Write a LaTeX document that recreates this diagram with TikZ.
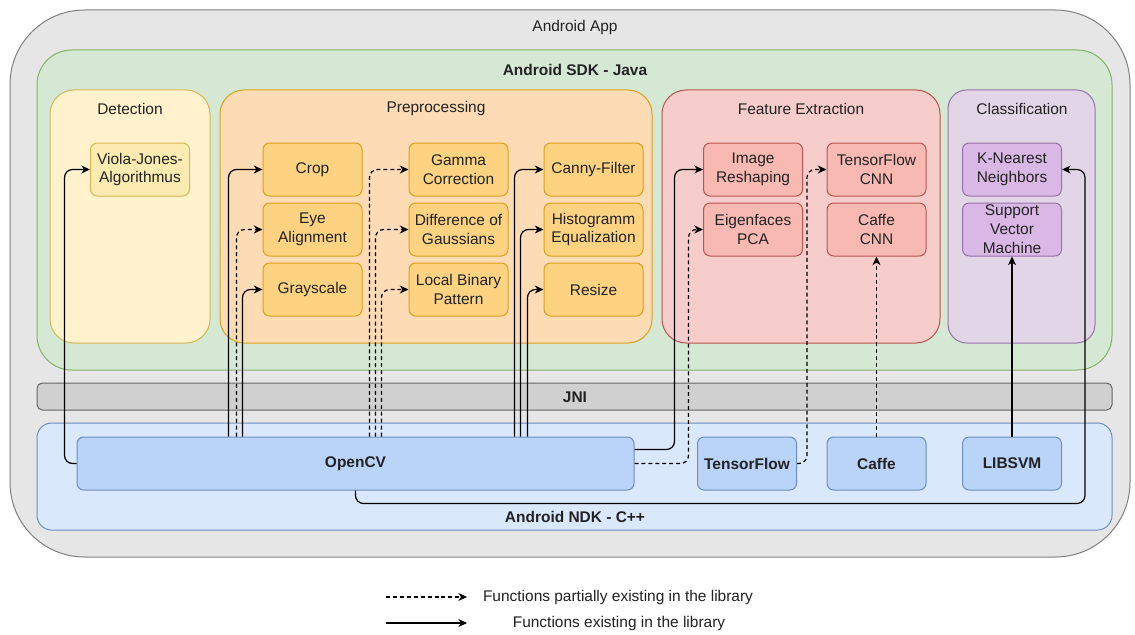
\documentclass[tikz,border=0pt]{standalone}
\usepackage{fontspec}
\setmainfont{Liberation Sans}
\usetikzlibrary{arrows.meta,calc}
\definecolor{appfill}{HTML}{E6E6E6}
\definecolor{appdraw}{HTML}{808080}
\definecolor{sdkfill}{HTML}{D5E8D4}
\definecolor{sdkdraw}{HTML}{82B366}
\definecolor{detfill}{HTML}{FFF2CC}
\definecolor{detdraw}{HTML}{D6B656}
\definecolor{detcell}{HTML}{FCEBB0}
\definecolor{prefill}{HTML}{FDDBB5}
\definecolor{predraw}{HTML}{D9A21A}
\definecolor{precell}{HTML}{FDD382}
\definecolor{feafill}{HTML}{F6CDCA}
\definecolor{feadraw}{HTML}{B85450}
\definecolor{feacell}{HTML}{F8B9B3}
\definecolor{clsfill}{HTML}{E1D5E7}
\definecolor{clsdraw}{HTML}{9673A6}
\definecolor{clscell}{HTML}{DAB8E6}
\definecolor{jnifill}{HTML}{D0D0D0}
\definecolor{jnidraw}{HTML}{666666}
\definecolor{ndkfill}{HTML}{DAE8FC}
\definecolor{ndkdraw}{HTML}{6C8EBF}
\definecolor{ndkcell}{HTML}{BAD3F8}
\definecolor{txt}{HTML}{222222}
\begin{document}
\begin{tikzpicture}[x=0.75pt,y=-0.75pt,
  every node/.style={font=\fontsize{11.6}{14.2}\selectfont, text=txt, inner sep=0pt},
  container/.style={line width=0.75pt},
  cell/.style={draw, rounded corners=5pt, line width=0.75pt, minimum width=74.25pt, minimum height=39.75pt, align=center},
  detbox/.style={cell, fill=detcell, draw=detdraw},
  prebox/.style={cell, fill=precell, draw=predraw},
  feabox/.style={cell, fill=feacell, draw=feadraw},
  clsbox/.style={cell, fill=clscell, draw=clsdraw},
  ndkbox/.style={cell, fill=ndkcell, draw=ndkdraw, font=\fontsize{11.6}{14.2}\selectfont\bfseries},
  conn/.style={draw=black, line width=0.9pt, rounded corners=6pt, -{Stealth[length=6.5pt,width=6pt,inset=2pt]}},
  dconn/.style={conn, dash pattern=on 3pt off 2.2pt},
  title/.style={anchor=center},
  btitle/.style={anchor=center, font=\fontsize{11.6}{14.2}\selectfont\bfseries}
]
\useasboundingbox (0,0) rectangle (1135,635);
\fill[white] (0,0) rectangle (1135,635);
% containers
\draw[container, fill=appfill, draw=appdraw, rounded corners=56pt] (10,10) rectangle (1130,557);
\node[title] (apptitle) at (575,28) {Android App};
\draw[container, fill=sdkfill, draw=sdkdraw, rounded corners=26pt] (37,50) rectangle (1112,370);
\node[btitle] (sdktitle) at (575,70) {Android SDK - Java};
\draw[container, fill=detfill, draw=detdraw, rounded corners=18pt] (50,90) rectangle (210,343);
\node[title] (dettitle) at (130,109) {Detection};
\draw[container, fill=prefill, draw=predraw, rounded corners=18pt] (220,90) rectangle (652,343);
\node[title] (pretitle) at (436,109) {Preprocessing};
\draw[container, fill=feafill, draw=feadraw, rounded corners=18pt] (662,90) rectangle (940,343);
\node[title] (featitle) at (801,109) {Feature Extraction};
\draw[container, fill=clsfill, draw=clsdraw, rounded corners=14pt] (948,90) rectangle (1095,343);
\node[title] (clstitle) at (1022,109) {Classification};
\draw[container, fill=jnifill, draw=jnidraw, rounded corners=4pt] (37,383) rectangle (1112,410);
\node[btitle] (jnititle) at (575,397) {JNI};
\draw[container, fill=ndkfill, draw=ndkdraw, rounded corners=11pt] (37,423) rectangle (1112,530);
\node[btitle] (ndktitle) at (575,517) {Android NDK - C++};
% cells
\node[detbox] (viola) at (140,169.5) {Viola-Jones-\\Algorithmus};
\node[prebox] (crop) at (312.5,169.5) {Crop};
\node[prebox] (eye) at (312.5,229.5) {Eye\\Alignment};
\node[prebox] (gray) at (312.5,289.5) {Grayscale};
\node[prebox] (gamma) at (458.5,169.5) {Gamma\\Correction};
\node[prebox] (dog) at (458.5,229.5) {Difference of\\Gaussians};
\node[prebox] (lbp) at (458.5,289.5) {Local Binary\\Pattern};
\node[prebox] (canny) at (593.5,169.5) {Canny-Filter};
\node[prebox] (hist) at (593.5,229.5) {Histogramm\\Equalization};
\node[prebox] (resize) at (593.5,289.5) {Resize};
\node[feabox] (imgres) at (753,169.5) {Image\\Reshaping};
\node[feabox] (eigen) at (753,229.5) {Eigenfaces\\PCA};
\node[feabox] (tfcnn) at (876.5,169.5) {TensorFlow\\CNN};
\node[feabox] (caffecnn) at (876.5,229.5) {Caffe\\CNN};
\node[clsbox] (knn) at (1012,169.5) {K-Nearest\\Neighbors};
\node[clsbox] (svm) at (1012,229.5) {Support\\Vector\\Machine};
\node[ndkbox, minimum width=417.75pt] (opencv) at (355.5,463.5) {OpenCV};
\node[ndkbox] (tensorflow) at (747,463.5) {TensorFlow};
\node[ndkbox] (caffe) at (876.5,463.5) {Caffe};
\node[ndkbox] (libsvm) at (1012,463.5) {LIBSVM};
% connectors
\draw[conn] (opencv.west) -- ++(-12,0) |- (viola.west);
\draw[conn] ($(opencv.north west)+(152,0)$) |- (crop.west);
\draw[dconn] ($(opencv.north west)+(160,0)$) |- (eye.west);
\draw[conn] ($(opencv.north west)+(166,0)$) |- (gray.west);
\draw[dconn] ($(opencv.north west)+(293,0)$) |- (gamma.west);
\draw[dconn] ($(opencv.north west)+(299,0)$) |- (dog.west);
\draw[dconn] ($(opencv.north west)+(305,0)$) |- (lbp.west);
\draw[conn] ($(opencv.north west)+(438,0)$) |- (canny.west);
\draw[conn] ($(opencv.north west)+(444,0)$) |- (hist.west);
\draw[conn] ($(opencv.north west)+(451,0)$) |- (resize.west);
\draw[conn] ($(opencv.north east)+(0,13)$) -- ++(40,0) |- (imgres.west);
\draw[dconn] (opencv.east) -- ++(54,0) |- (eigen.west);
\draw[dconn] (tensorflow.east) -- ++(10,0) |- (tfcnn.west);
\draw[dconn] (caffe.north) -- (caffecnn.south);
\draw[conn] (libsvm.north) -- (svm.south);
\draw[conn] (opencv.south) -- ++(0,13) -| ($(knn.east)+(23,0)$) -- (knn.east);
% legend
\coordinate (l1s) at (386,597);
\coordinate (l1e) at (467,597);
\coordinate (l2s) at (386,623);
\coordinate (l2e) at (467,623);
\draw[dconn] (l1s) -- (l1e);
\draw[conn] (l2s) -- (l2e);
\node[title] (leg1) at (618,597) {Functions partially existing in the library};
\node[title] (leg2) at (619,623) {Functions existing in the library};
\end{tikzpicture}
\end{document}
